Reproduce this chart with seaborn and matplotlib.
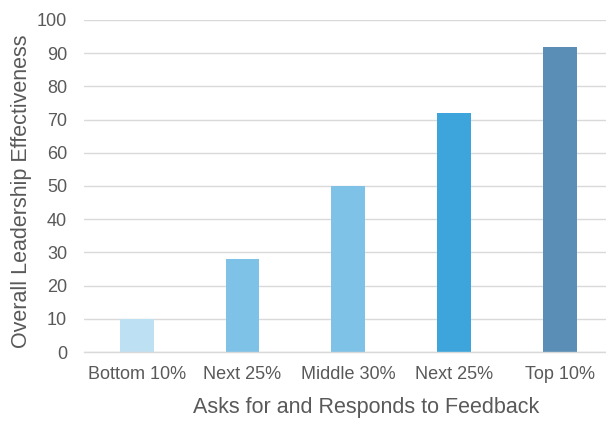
import matplotlib
matplotlib.use("Agg")
import matplotlib.pyplot as plt
import seaborn as sns
import pandas as pd

categories = ["Bottom 10%", "Next 25%", "Middle 30%", "Next 25%", "Top 10%"]
values = [10, 28, 50, 72, 92]
colors = ["#BEE0F3", "#7FC2E7", "#7FC2E7", "#3DA5DC", "#5A8EB6"]
yticks = [0, 10, 20, 30, 40, 50, 60, 70, 80, 90, 100]

sns.set_theme(style="white")
plt.rcParams["font.family"] = ["Liberation Sans", "DejaVu Sans"]

df = pd.DataFrame({"pos": list(range(len(categories))), "value": values})

W, H = 606, 423
fig = plt.figure(figsize=(W / 100, H / 100), dpi=100)
left, right = 83.8, 613
top, bottom = 20, 352
aw, ah = right - left, bottom - top
ax = fig.add_axes([left / W, 1 - bottom / H, aw / W, ah / H])

sns.barplot(data=df, x="pos", y="value", hue="pos", palette=colors, legend=False,
            width=0.32, ax=ax, saturation=1, linewidth=0,
            order=list(range(len(categories))))

ax.set_ylim(0, 100)
ax.set_xlim(-0.5, len(categories) - 0.5)
ax.set_yticks(yticks)
ax.set_xticks(range(len(categories)))
ax.set_xticklabels(categories)
ax.grid(axis="y", color="#D9D9D9", linewidth=1)
ax.set_axisbelow(True)
for s in ["top", "right", "left"]:
    ax.spines[s].set_visible(False)
ax.spines["bottom"].set_color("#D9D9D9")
ax.spines["bottom"].set_linewidth(1)
ax.tick_params(axis="both", length=0, labelsize=13, colors="#595959")
ax.tick_params(axis="x", pad=10)
ax.tick_params(axis="y", pad=12)
ax.set_xlabel("Asks for and Responds to Feedback", fontsize=15.5, color="#595959")
ax.set_ylabel("Overall Leadership Effectiveness", fontsize=15.5, color="#595959")
ax.xaxis.set_label_coords((366 - left) / aw, -(397 - bottom) / ah)
ax.yaxis.set_label_coords((32 - left) / aw, (bottom - 191) / ah)

fig.savefig("out.png", dpi=100)
